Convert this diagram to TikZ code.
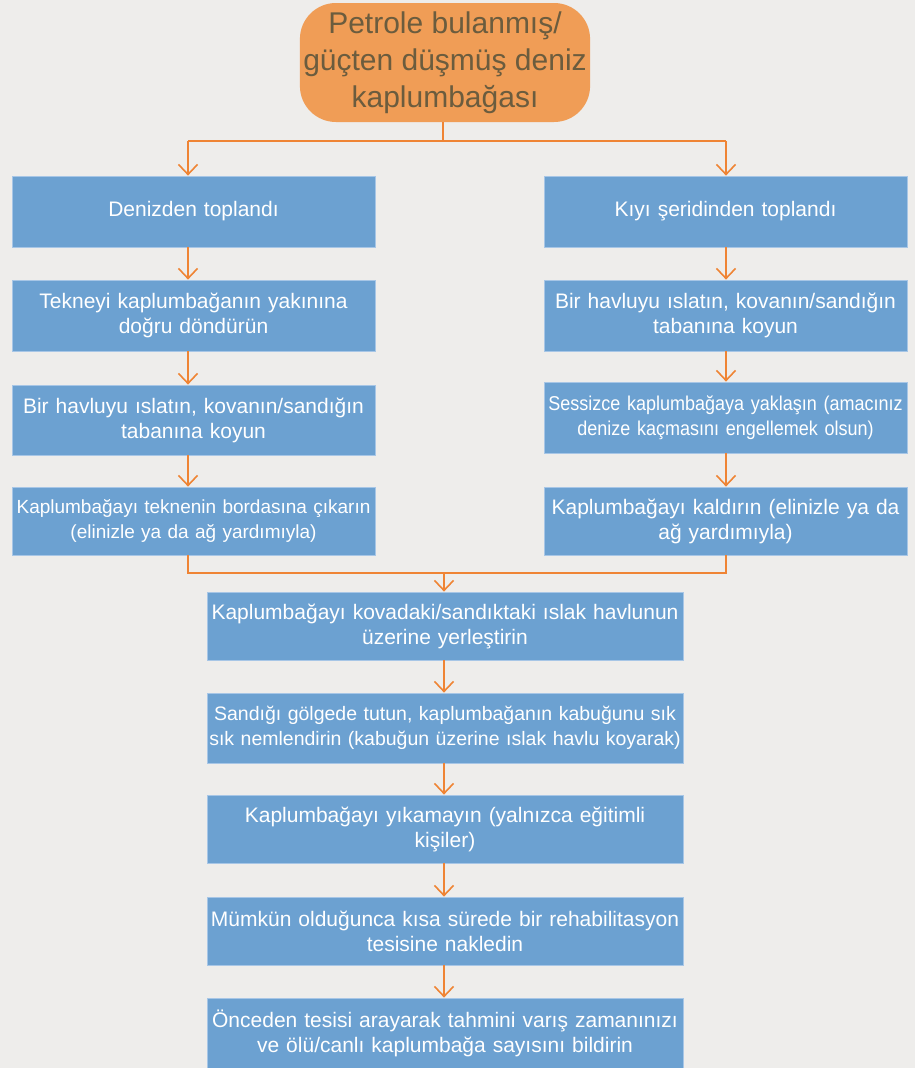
\documentclass[tikz,border=0pt]{standalone}
\usepackage{fontspec}
\setmainfont{Liberation Sans}
\newfontfamily\condfont[FakeStretch=0.9]{Liberation Sans}
\usetikzlibrary{arrows.meta,calc}
\definecolor{bg}{HTML}{EEEDEB}
\definecolor{boxblue}{HTML}{6CA1D1}
\definecolor{boxedge}{HTML}{A7C6E6}
\definecolor{lineorange}{HTML}{EF8434}
\definecolor{topfill}{HTML}{F09D56}
\definecolor{toptext}{HTML}{6B5C3E}
\tikzset{
  stepbox/.style={rectangle, fill=boxblue, draw=boxedge, line width=0.8pt,
    text=white, align=center, inner sep=2pt,
    font=\fontsize{21}{25}\selectfont},
  sidebox/.style={stepbox, minimum width=363pt, text width=359pt},
  midbox/.style={stepbox, minimum width=476pt, text width=472pt},
  topbox/.style={rectangle, rounded corners=36pt, fill=topfill, draw=none,
    text=toptext, align=center, minimum width=286pt, minimum height=119pt,
    font=\fontsize{30}{37}\selectfont},
  conn/.style={draw=lineorange, line width=1.6pt},
  arr/.style={conn, -{Straight Barb[length=10pt, width=19pt, line width=1.6pt]}},
}
\begin{document}
\begin{tikzpicture}[x=1pt,y=-1pt]
\fill[bg] (0,0) rectangle (915,1068);
\useasboundingbox (0,0) rectangle (915,1068);

\node[topbox] (top) at (445,62.5) {Petrole bulanmış/\\güçten düşmüş deniz\\kaplumbağası};

\node[sidebox, minimum height=71pt] (L1) at (193.5,211.5) {Denizden toplandı};
\node[sidebox, minimum height=71pt] (L2) at (193.5,315.5) {Tekneyi kaplumbağanın yakınına\\doğru döndürün};
\node[sidebox, minimum height=70pt] (L3) at (193.5,420) {Bir havluyu ıslatın, kovanın/sandığın\\tabanına koyun};
\node[sidebox, minimum height=68pt, font=\fontsize{19}{25}\selectfont] (L4) at (193.5,521) {Kaplumbağayı teknenin bordasına çıkarın\\(elinizle ya da ağ yardımıyla)};

\node[sidebox, minimum height=71pt] (R1) at (725.5,211.5) {Kıyı şeridinden toplandı};
\node[sidebox, minimum height=71pt] (R2) at (725.5,315.5) {Bir havluyu ıslatın, kovanın/sandığın\\tabanına koyun};
\node[sidebox, minimum height=71pt, font=\condfont\fontsize{20}{25}\selectfont] (R3) at (725.5,417.5) {Sessizce kaplumbağaya yaklaşın (amacınız\\denize kaçmasını engellemek olsun)};
\node[sidebox, minimum height=68pt] (R4) at (725.5,521) {Kaplumbağayı kaldırın (elinizle ya da\\ağ yardımıyla)};

\node[midbox, minimum height=68pt] (C1) at (445,626) {Kaplumbağayı kovadaki/sandıktaki ıslak havlunun\\üzerine yerleştirin};
\node[midbox, minimum height=70pt, font=\fontsize{19.5}{25}\selectfont] (C2) at (445,728) {Sandığı gölgede tutun, kaplumbağanın kabuğunu sık\\sık nemlendirin (kabuğun üzerine ıslak havlu koyarak)};
\node[midbox, minimum height=68pt] (C3) at (445,829) {Kaplumbağayı yıkamayın (yalnızca eğitimli\\kişiler)};
\node[midbox, minimum height=68pt] (C4) at (445,931) {Mümkün olduğunca kısa sürede bir rehabilitasyon\\tesisine nakledin};
\node[midbox, minimum height=70pt] (C5) at (445,1033) {Önceden tesisi arayarak tahmini varış zamanınızı\\ve ölü/canlı kaplumbağa sayısını bildirin};

\coordinate (lx) at (188,0);
\coordinate (rx) at (726,0);
\coordinate (cx) at (444,0);
\coordinate (split) at (443,141);
\coordinate (merge) at (444,573);

% top split
\draw[conn] (top.south -| split) -- (split);
\draw[arr] (split -| lx) -- (L1.north -| lx);
\draw[arr] (split -| rx) -- (R1.north -| rx);
\draw[conn] (split -| lx) -- (split -| rx);

% left column
\draw[arr] (L1.south -| lx) -- (L2.north -| lx);
\draw[arr] (L2.south -| lx) -- (L3.north -| lx);
\draw[arr] (L3.south -| lx) -- (L4.north -| lx);

% right column
\draw[arr] (R1.south -| rx) -- (R2.north -| rx);
\draw[arr] (R2.south -| rx) -- (R3.north -| rx);
\draw[arr] (R3.south -| rx) -- (R4.north -| rx);

% merge
\draw[conn] (L4.south -| lx) -- (merge -| lx) -- (merge -| rx) -- (R4.south -| rx);
\draw[arr] (merge) -- (C1.north -| merge);

% center column
\draw[arr] (C1.south -| cx) -- (C2.north -| cx);
\draw[arr] (C2.south -| cx) -- (C3.north -| cx);
\draw[arr] (C3.south -| cx) -- (C4.north -| cx);
\draw[arr] (C4.south -| cx) -- (C5.north -| cx);
\end{tikzpicture}
\end{document}
